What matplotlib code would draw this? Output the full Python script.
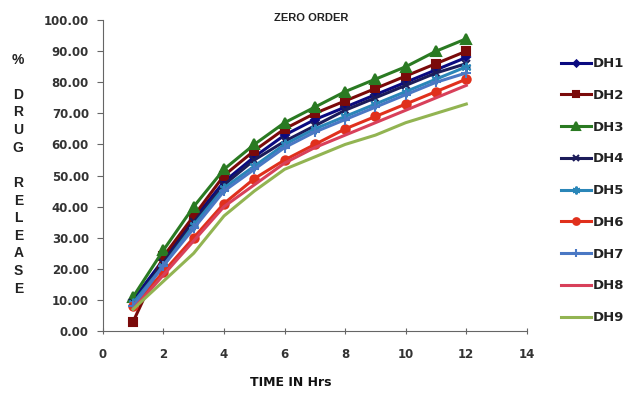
import numpy as np
import matplotlib.pyplot as plt

# time points (hours)
time_hrs = [1, 2, 3, 4, 5, 6, 7, 8, 9, 10, 11, 12]

# % drug release
dh1 = [10, 23, 36, 48, 56, 63, 68, 72, 76, 80, 84, 88]
dh2 = [3, 24, 37, 50, 58, 65, 70, 74, 78, 82, 86, 90]
dh3 = [11, 26, 40, 52, 60, 67, 72, 77, 81, 85, 90, 94]
dh4 = [9, 22, 35, 47, 55, 61, 66, 71, 75, 79, 83, 86]
dh5 = [9, 21, 34, 46, 53, 60, 65, 69, 73, 77, 81, 85]
dh6 = [8, 19, 30, 41, 49, 55, 60, 65, 69, 73, 77, 81]
dh7 = [8, 21, 33, 45, 52, 59, 64, 68, 72, 76, 80, 83]
dh8 = [7, 18, 29, 40, 47, 54, 59, 63, 67, 71, 75, 79]
dh9 = [7, 16, 25, 37, 45, 52, 56, 60, 63, 67, 70, 73]

series_names = ["DH1", "DH2", "DH3", "DH4", "DH5", "DH6", "DH7", "DH8", "DH9"]
series_values = [dh1, dh2, dh3, dh4, dh5, dh6, dh7, dh8, dh9]

# style per series (colour, marker, marker size)
styles = [
    ("#0a0a80", "D", 4),
    ("#7a0a0a", "s", 6),
    ("#2a7a22", "^", 7),
    ("#1c1c5a", "x", 6),
    ("#2a86b8", (6, 2, 0), 7),
    ("#e0301c", "o", 6),
    ("#4a78c4", "+", 7),
    ("#d8405a", "", 0),
    ("#92b452", "", 0),
]

fig = plt.figure(figsize=(6.31, 3.94), dpi=100)
ax = fig.add_axes([0.163, 0.16, 0.672, 0.789])

handles = []
for name, vals, (col, mk, ms) in zip(series_names, series_values, styles):
    h, = ax.plot(time_hrs, vals, color=col, marker=mk, markersize=ms,
                 linewidth=2.2, label=name, markeredgewidth=1.5)
    handles.append(h)

ax.set_xlim(0, 14)
ax.set_ylim(0, 100)
ax.set_xticks(np.arange(0, 15, 2))
ax.set_yticks(np.arange(0, 101, 10))
ax.set_yticklabels([f"{v:.2f}" for v in np.arange(0, 101, 10)])

for lab in ax.get_xticklabels() + ax.get_yticklabels():
    lab.set_fontweight("bold")
    lab.set_color("#333333")
    lab.set_fontsize(8.5)

ax.spines["top"].set_visible(False)
ax.spines["right"].set_visible(False)
ax.spines["left"].set_color("#666666")
ax.spines["bottom"].set_color("#666666")
ax.tick_params(axis="y", direction="out", length=4, color="#666666", pad=6)
ax.tick_params(axis="x", direction="inout", length=5, color="#666666", pad=10)

fig.text(0.493, 0.954, "ZERO ORDER", ha="center", va="center",
         fontsize=8, fontweight="bold", color="#222222",
         family="Liberation Sans")

# stacked vertical y label
ylab = "%\n\nD\nR\nU\nG\n\nR\nE\nL\nE\nA\nS\nE"
fig.text(0.029, 0.558, ylab, ha="center", va="center", fontsize=10,
         fontweight="bold", color="#222222", linespacing=1.33,
         family="Liberation Sans")

fig.text(0.46, 0.028, "TIME IN Hrs", ha="center", va="center",
         fontsize=9, fontweight="bold", color="#111111",
         family="Liberation Sans Narrow")

leg = fig.legend(handles=handles, loc="center left",
                 bbox_to_anchor=(0.87, 0.516), frameon=False,
                 fontsize=9.5, handlelength=2.3, handletextpad=0.15,
                 labelspacing=1.42, markerscale=0.8)
for t in leg.get_texts():
    t.set_fontweight("bold")
    t.set_color("#222222")

fig.savefig("out.png", dpi=100)
